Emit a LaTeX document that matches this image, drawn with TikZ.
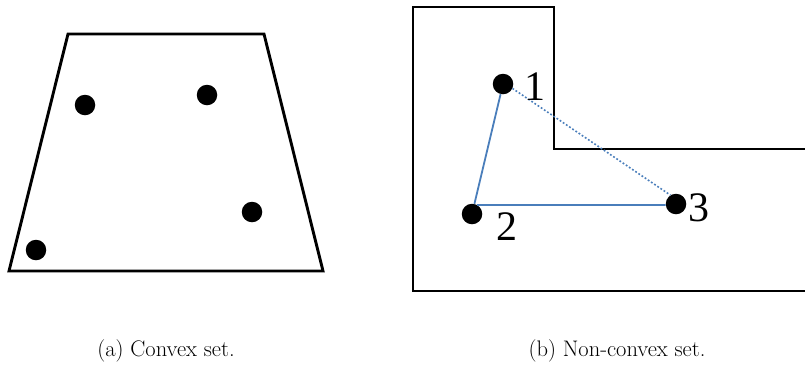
\documentclass[tikz,border=0pt]{standalone}
\usepackage{fontspec}
\newfontfamily\numfont{Liberation Serif}
\begin{document}
\begin{tikzpicture}[x=1pt,y=-1pt,
  dot/.style={circle,fill=black,minimum size=20.5pt,inner sep=0pt},
  outline/.style={line width=2.9pt,line join=miter},
  seg/.style={draw=segblue,line width=1.8pt},
  numlabel/.style={inner sep=0pt,font=\numfont\fontsize{42}{42}\selectfont},
  caption/.style={inner sep=0pt,font=\fontsize{22.5}{26}\selectfont}]
\definecolor{segblue}{HTML}{4A7EBB}
\useasboundingbox (0,0) rectangle (805,365);
% (a) convex set
\draw[outline] (68,34) -- (264,34) -- (323,271) -- (9,271) -- cycle;
\node[dot] (a1) at (85,105) {};
\node[dot] (a2) at (207,95) {};
\node[dot] (a3) at (252,212) {};
\node[dot] (a4) at (36,250) {};
% (b) non-convex set
\draw[outline] (806,149) -- (554,149) -- (554,7) -- (413,7) -- (413,291) -- (806,291);
\node[dot] (b1) at (503,84) {};
\node[dot] (b2) at (472,214) {};
\node[dot] (b3) at (676,204) {};
\draw[seg] (b1) -- (b2);
\draw[seg] (b2.60) -- (b3.185);
\draw[seg,dotted,line width=1.6pt] (b1.-25) -- (b3.122);
\node[numlabel] (l1) at (535,87) {1};
\node[numlabel] (l2) at (507,227) {2};
\node[numlabel] (l3) at (699,208) {3};
% captions
\node[caption] (ca) at (166,351) {(a) Convex set.};
\node[caption] (cb) at (617,351) {(b) Non-convex set.};
\end{tikzpicture}
\end{document}
